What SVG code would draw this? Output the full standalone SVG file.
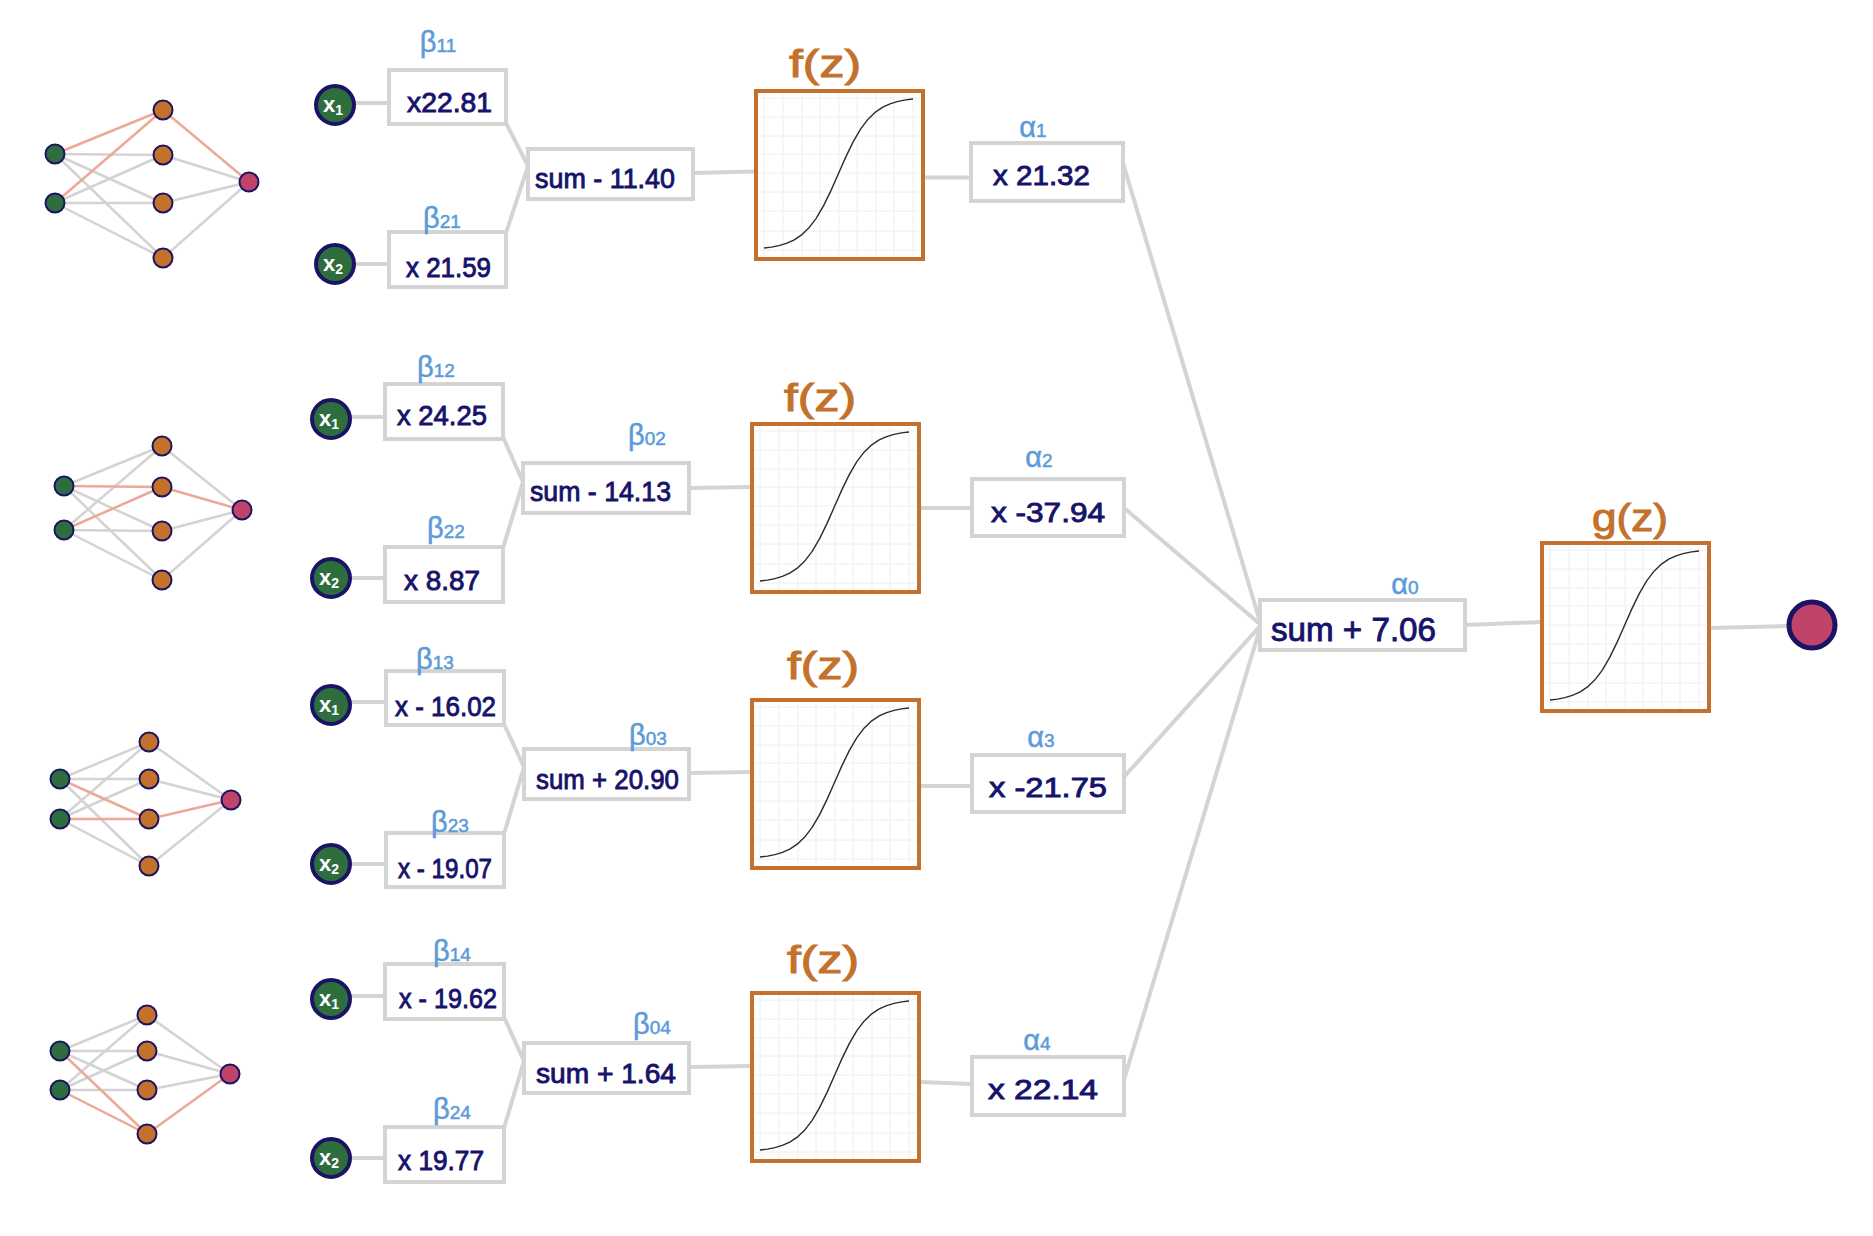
<svg xmlns="http://www.w3.org/2000/svg" xmlns:xlink="http://www.w3.org/1999/xlink" width="1873" height="1236" viewBox="0 0 1873 1236">
<style>
.box{fill:#fff;stroke:#d4d4d4;stroke-width:4}
.val{font-family:"Liberation Sans",Arial,sans-serif;font-size:28px;fill:#16136b;stroke:#16136b;stroke-width:0.9}
.lbl{font-family:"Liberation Sans",Arial,sans-serif;font-size:29px;fill:#5b9bd9;text-anchor:middle;stroke:#5b9bd9;stroke-width:0.5}
.sub{font-size:19px}
.fn{font-family:"Liberation Sans",Arial,sans-serif;font-size:38px;fill:#c4712c;text-anchor:middle;stroke:#c4712c;stroke-width:1}
.edge{stroke:#d4d4d4;stroke-width:4;stroke-linecap:round;fill:none}
.mini{stroke:#d3d3d3;stroke-width:2.5}
.hot{stroke:#eca899;stroke-width:2.5}
.in{fill:#2e6e3e;stroke:#1b1464;stroke-width:4}
.intext{font-family:"Liberation Sans",Arial,sans-serif;font-weight:bold;font-size:22px;fill:#fff;text-anchor:middle}
.mg{fill:#2e6e3e;stroke:#1b1464;stroke-width:2}
.mo{fill:#c4712c;stroke:#1b1464;stroke-width:2}
.mp{fill:#c0436a;stroke:#1b1464;stroke-width:2}
.sigbox{fill:none;stroke:#c4702e;stroke-width:4}
.grid{stroke:#eeeeee;stroke-width:1}
.curve{fill:none;stroke:#2b2b2b;stroke-width:1.4;stroke-linejoin:round}
</style>
<defs>
<g id="sig">
<rect x="0" y="0" width="167" height="168" fill="#fff"/>
<g class="grid">
<line x1="8" y1="3" x2="8" y2="165"/><line x1="27" y1="3" x2="27" y2="165"/><line x1="46" y1="3" x2="46" y2="165"/><line x1="64" y1="3" x2="64" y2="165"/><line x1="83" y1="3" x2="83" y2="165"/><line x1="101" y1="3" x2="101" y2="165"/><line x1="120" y1="3" x2="120" y2="165"/><line x1="138" y1="3" x2="138" y2="165"/><line x1="157" y1="3" x2="157" y2="165"/>
<line x1="3" y1="7" x2="164" y2="7"/><line x1="3" y1="26" x2="164" y2="26"/><line x1="3" y1="45" x2="164" y2="45"/><line x1="3" y1="63" x2="164" y2="63"/><line x1="3" y1="82" x2="164" y2="82"/><line x1="3" y1="101" x2="164" y2="101"/><line x1="3" y1="120" x2="164" y2="120"/><line x1="3" y1="140" x2="164" y2="140"/><line x1="3" y1="159" x2="164" y2="159"/>
</g>
<polyline class="curve" points="8,157 15.45,156.07 22.9,154.62 30.35,152.41 37.8,149.09 45.25,144.15 52.7,137.06 60.15,127.32 67.6,114.64 75.05,99.36 82.5,82.5 89.95,65.64 97.4,50.36 104.85,37.68 112.3,27.94 119.75,20.85 127.2,15.91 134.65,12.59 142.1,10.38 149.55,8.93 157,8"/>
<rect class="sigbox" x="0" y="0" width="167" height="168"/>
</g>
</defs>
<rect width="1873" height="1236" fill="#fff"/>

<!-- mini networks -->
<g id="mini1">
<g class="mini">
<line x1="55" y1="154" x2="163" y2="155"/><line x1="55" y1="154" x2="163" y2="203"/><line x1="55" y1="154" x2="163" y2="258"/>
<line x1="55" y1="203" x2="163" y2="155"/><line x1="55" y1="203" x2="163" y2="203"/><line x1="55" y1="203" x2="163" y2="258"/>
<line x1="163" y1="155" x2="249" y2="182"/><line x1="163" y1="203" x2="249" y2="182"/><line x1="163" y1="258" x2="249" y2="182"/>
</g>
<g class="hot"><line x1="55" y1="154" x2="163" y2="110"/><line x1="55" y1="203" x2="163" y2="110"/><line x1="163" y1="110" x2="249" y2="182"/></g>
<circle class="mg" cx="55" cy="154" r="9.5"/><circle class="mg" cx="55" cy="203" r="9.5"/>
<circle class="mo" cx="163" cy="110" r="9.5"/><circle class="mo" cx="163" cy="155" r="9.5"/><circle class="mo" cx="163" cy="203" r="9.5"/><circle class="mo" cx="163" cy="258" r="9.5"/>
<circle class="mp" cx="249" cy="182" r="9.5"/>
</g>
<g id="mini2">
<g class="mini">
<line x1="64" y1="486" x2="162" y2="446"/><line x1="64" y1="486" x2="162" y2="531"/><line x1="64" y1="486" x2="162" y2="580"/>
<line x1="64" y1="530" x2="162" y2="446"/><line x1="64" y1="530" x2="162" y2="531"/><line x1="64" y1="530" x2="162" y2="580"/>
<line x1="162" y1="446" x2="242" y2="510"/><line x1="162" y1="531" x2="242" y2="510"/><line x1="162" y1="580" x2="242" y2="510"/>
</g>
<g class="hot"><line x1="64" y1="486" x2="162" y2="487"/><line x1="64" y1="530" x2="162" y2="487"/><line x1="162" y1="487" x2="242" y2="510"/></g>
<circle class="mg" cx="64" cy="486" r="9.5"/><circle class="mg" cx="64" cy="530" r="9.5"/>
<circle class="mo" cx="162" cy="446" r="9.5"/><circle class="mo" cx="162" cy="487" r="9.5"/><circle class="mo" cx="162" cy="531" r="9.5"/><circle class="mo" cx="162" cy="580" r="9.5"/>
<circle class="mp" cx="242" cy="510" r="9.5"/>
</g>
<g id="mini3">
<g class="mini">
<line x1="60" y1="779" x2="149" y2="742"/><line x1="60" y1="779" x2="149" y2="779"/><line x1="60" y1="779" x2="149" y2="866"/>
<line x1="60" y1="819" x2="149" y2="742"/><line x1="60" y1="819" x2="149" y2="779"/><line x1="60" y1="819" x2="149" y2="866"/>
<line x1="149" y1="742" x2="231" y2="800"/><line x1="149" y1="779" x2="231" y2="800"/><line x1="149" y1="866" x2="231" y2="800"/>
</g>
<g class="hot"><line x1="60" y1="779" x2="149" y2="819"/><line x1="60" y1="819" x2="149" y2="819"/><line x1="149" y1="819" x2="231" y2="800"/></g>
<circle class="mg" cx="60" cy="779" r="9.5"/><circle class="mg" cx="60" cy="819" r="9.5"/>
<circle class="mo" cx="149" cy="742" r="9.5"/><circle class="mo" cx="149" cy="779" r="9.5"/><circle class="mo" cx="149" cy="819" r="9.5"/><circle class="mo" cx="149" cy="866" r="9.5"/>
<circle class="mp" cx="231" cy="800" r="9.5"/>
</g>
<g id="mini4">
<g class="mini">
<line x1="60" y1="1051" x2="147" y2="1015"/><line x1="60" y1="1051" x2="147" y2="1051"/><line x1="60" y1="1051" x2="147" y2="1090"/>
<line x1="60" y1="1090" x2="147" y2="1015"/><line x1="60" y1="1090" x2="147" y2="1051"/><line x1="60" y1="1090" x2="147" y2="1090"/>
<line x1="147" y1="1015" x2="230" y2="1074"/><line x1="147" y1="1051" x2="230" y2="1074"/><line x1="147" y1="1090" x2="230" y2="1074"/>
</g>
<g class="hot"><line x1="60" y1="1051" x2="147" y2="1134"/><line x1="60" y1="1090" x2="147" y2="1134"/><line x1="147" y1="1134" x2="230" y2="1074"/></g>
<circle class="mg" cx="60" cy="1051" r="9.5"/><circle class="mg" cx="60" cy="1090" r="9.5"/>
<circle class="mo" cx="147" cy="1015" r="9.5"/><circle class="mo" cx="147" cy="1051" r="9.5"/><circle class="mo" cx="147" cy="1090" r="9.5"/><circle class="mo" cx="147" cy="1134" r="9.5"/>
<circle class="mp" cx="230" cy="1074" r="9.5"/>
</g>

<!-- connectors -->
<g id="connectors" class="edge">
<line x1="355" y1="103" x2="389" y2="103"/>
<line x1="355" y1="264" x2="389" y2="264"/>
<line x1="506" y1="123" x2="528" y2="166"/>
<line x1="506" y1="233" x2="528" y2="166"/>
<line x1="693" y1="173" x2="756" y2="171.5"/>
<line x1="922" y1="177.5" x2="971" y2="177.5"/>
<line x1="1123" y1="163" x2="1261" y2="625"/>

<line x1="350" y1="417" x2="385" y2="417"/>
<line x1="350" y1="578" x2="385" y2="578"/>
<line x1="503" y1="437" x2="523" y2="482"/>
<line x1="503" y1="548" x2="523" y2="482"/>
<line x1="689" y1="488" x2="752" y2="487"/>
<line x1="919" y1="508" x2="972" y2="508"/>
<line x1="1123" y1="507" x2="1261" y2="625"/>

<line x1="351" y1="702" x2="386" y2="702"/>
<line x1="351" y1="864" x2="386" y2="864"/>
<line x1="504" y1="724" x2="524" y2="767"/>
<line x1="504" y1="834" x2="524" y2="767"/>
<line x1="689" y1="773" x2="752" y2="772"/>
<line x1="919" y1="786" x2="972" y2="786"/>
<line x1="1123" y1="778" x2="1261" y2="625"/>

<line x1="350" y1="996" x2="385" y2="996"/>
<line x1="350" y1="1158" x2="385" y2="1158"/>
<line x1="504" y1="1017" x2="524" y2="1061"/>
<line x1="504" y1="1128" x2="524" y2="1061"/>
<line x1="689" y1="1067" x2="752" y2="1066"/>
<line x1="919" y1="1082" x2="972" y2="1084"/>
<line x1="1123" y1="1083" x2="1261" y2="625"/>

<line x1="1465" y1="625" x2="1542" y2="622"/>
<line x1="1709" y1="628" x2="1788" y2="626"/>
</g>

<!-- row 1 -->
<g id="x1_r1"><circle class="in" cx="335" cy="105" r="19"/><text class="intext" x="333" y="112">x<tspan font-size="14" dy="3">1</tspan></text></g>
<g id="x2_r1"><circle class="in" cx="335" cy="264" r="19"/><text class="intext" x="333" y="271">x<tspan font-size="14" dy="3">2</tspan></text></g>
<g id="w11"><rect class="box" x="389" y="70" width="117" height="54"/><text class="val" x="407" y="112" textLength="85" lengthAdjust="spacingAndGlyphs">x22.81</text><text class="lbl" x="438" y="52">β<tspan class="sub">11</tspan></text></g>
<g id="w21"><rect class="box" x="389" y="232" width="117" height="55"/><text class="val" x="406" y="277" textLength="85" lengthAdjust="spacingAndGlyphs">x 21.59</text><text class="lbl" x="442" y="228">β<tspan class="sub">21</tspan></text></g>
<g id="sum1"><rect class="box" x="528" y="149" width="165" height="50"/><text class="val" x="535" y="188" textLength="140" lengthAdjust="spacingAndGlyphs">sum - 11.40</text></g>
<g id="f1"><use xlink:href="#sig" x="756" y="91"/><text class="fn" x="825" y="77" textLength="72" lengthAdjust="spacingAndGlyphs">f(z)</text></g>
<g id="a1"><rect class="box" x="971" y="143" width="152" height="58"/><text class="val" x="993" y="185" textLength="97" lengthAdjust="spacingAndGlyphs">x 21.32</text><text class="lbl" x="1033" y="137">α<tspan class="sub">1</tspan></text></g>

<!-- row 2 -->
<g id="x1_r2"><circle class="in" cx="331" cy="419" r="19"/><text class="intext" x="329" y="426">x<tspan font-size="14" dy="3">1</tspan></text></g>
<g id="x2_r2"><circle class="in" cx="331" cy="578" r="19"/><text class="intext" x="329" y="585">x<tspan font-size="14" dy="3">2</tspan></text></g>
<g id="w12"><rect class="box" x="385" y="384" width="118" height="55"/><text class="val" x="397" y="425" textLength="90" lengthAdjust="spacingAndGlyphs">x 24.25</text><text class="lbl" x="436" y="377">β<tspan class="sub">12</tspan></text></g>
<g id="w22"><rect class="box" x="385" y="547" width="118" height="55"/><text class="val" x="404" y="590" textLength="76" lengthAdjust="spacingAndGlyphs">x 8.87</text><text class="lbl" x="446" y="538">β<tspan class="sub">22</tspan></text></g>
<g id="sum2"><rect class="box" x="523" y="463" width="166" height="50"/><text class="val" x="530" y="501" textLength="141" lengthAdjust="spacingAndGlyphs">sum - 14.13</text><text class="lbl" x="647" y="445">β<tspan class="sub">02</tspan></text></g>
<g id="f2"><use xlink:href="#sig" x="752" y="424"/><text class="fn" x="820" y="411" textLength="72" lengthAdjust="spacingAndGlyphs">f(z)</text></g>
<g id="a2"><rect class="box" x="972" y="479" width="152" height="57"/><text class="val" x="991" y="522" textLength="114" lengthAdjust="spacingAndGlyphs">x -37.94</text><text class="lbl" x="1039" y="467">α<tspan class="sub">2</tspan></text></g>

<!-- row 3 -->
<g id="x1_r3"><circle class="in" cx="331" cy="705" r="19"/><text class="intext" x="329" y="712">x<tspan font-size="14" dy="3">1</tspan></text></g>
<g id="x2_r3"><circle class="in" cx="331" cy="864" r="19"/><text class="intext" x="329" y="871">x<tspan font-size="14" dy="3">2</tspan></text></g>
<g id="w13"><rect class="box" x="386" y="671" width="118" height="54"/><text class="val" x="395" y="716" textLength="101" lengthAdjust="spacingAndGlyphs">x - 16.02</text><text class="lbl" x="435" y="669">β<tspan class="sub">13</tspan></text></g>
<g id="w23"><rect class="box" x="386" y="833" width="118" height="54"/><text class="val" x="398" y="878" textLength="94" lengthAdjust="spacingAndGlyphs">x - 19.07</text><text class="lbl" x="450" y="832">β<tspan class="sub">23</tspan></text></g>
<g id="sum3"><rect class="box" x="524" y="749" width="165" height="50"/><text class="val" x="536" y="789" textLength="143" lengthAdjust="spacingAndGlyphs">sum + 20.90</text><text class="lbl" x="648" y="745">β<tspan class="sub">03</tspan></text></g>
<g id="f3"><use xlink:href="#sig" x="752" y="700"/><text class="fn" x="823" y="679" textLength="72" lengthAdjust="spacingAndGlyphs">f(z)</text></g>
<g id="a3"><rect class="box" x="972" y="755" width="152" height="57"/><text class="val" x="989" y="797" textLength="118" lengthAdjust="spacingAndGlyphs">x -21.75</text><text class="lbl" x="1041" y="747">α<tspan class="sub">3</tspan></text></g>

<!-- row 4 -->
<g id="x1_r4"><circle class="in" cx="331" cy="999" r="19"/><text class="intext" x="329" y="1006">x<tspan font-size="14" dy="3">1</tspan></text></g>
<g id="x2_r4"><circle class="in" cx="331" cy="1158" r="19"/><text class="intext" x="329" y="1165">x<tspan font-size="14" dy="3">2</tspan></text></g>
<g id="w14"><rect class="box" x="385" y="964" width="119" height="55"/><text class="val" x="399" y="1008" textLength="98" lengthAdjust="spacingAndGlyphs">x - 19.62</text><text class="lbl" x="452" y="961">β<tspan class="sub">14</tspan></text></g>
<g id="w24"><rect class="box" x="385" y="1127" width="119" height="55"/><text class="val" x="398" y="1170" textLength="86" lengthAdjust="spacingAndGlyphs">x 19.77</text><text class="lbl" x="452" y="1119">β<tspan class="sub">24</tspan></text></g>
<g id="sum4"><rect class="box" x="524" y="1043" width="165" height="50"/><text class="val" x="536" y="1083" textLength="140" lengthAdjust="spacingAndGlyphs">sum + 1.64</text><text class="lbl" x="652" y="1034">β<tspan class="sub">04</tspan></text></g>
<g id="f4"><use xlink:href="#sig" x="752" y="993"/><text class="fn" x="823" y="973" textLength="72" lengthAdjust="spacingAndGlyphs">f(z)</text></g>
<g id="a4"><rect class="box" x="972" y="1057" width="152" height="58"/><text class="val" x="988" y="1099" textLength="110" lengthAdjust="spacingAndGlyphs">x 22.14</text><text class="lbl" x="1037" y="1050">α<tspan class="sub">4</tspan></text></g>

<!-- output stage -->
<g id="sum0"><rect class="box" x="1260" y="600" width="205" height="50"/><text class="val" x="1271" y="641" style="font-size:33px" textLength="165" lengthAdjust="spacingAndGlyphs">sum + 7.06</text><text class="lbl" x="1405" y="594">α<tspan class="sub">0</tspan></text></g>
<g id="g"><use xlink:href="#sig" x="1542" y="543"/><text class="fn" x="1630" y="531" textLength="76" lengthAdjust="spacingAndGlyphs">g(z)</text></g>
<g id="out"><circle cx="1812" cy="625" r="23" fill="#c0436a" stroke="#1b1464" stroke-width="5"/></g>
</svg>
